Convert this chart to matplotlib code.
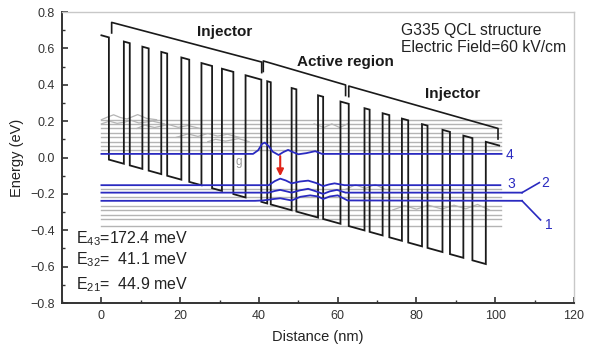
import matplotlib
matplotlib.use("Agg")
import matplotlib.pyplot as plt

plt.rcParams["font.family"] = ["Liberation Sans", "DejaVu Sans"]
plt.rcParams["mathtext.fontset"] = "custom"
plt.rcParams["mathtext.rm"] = "Liberation Sans"
plt.rcParams["mathtext.it"] = "Liberation Sans:italic"

# ── Layer structure (nm) ──────────────────────────────────────────────────────
barrier_start = [0.0, 5.7, 10.4, 15.2, 20.3, 25.4, 30.6, 36.6, 42.1, 48.3,
                 55.0, 60.7, 66.8, 71.4, 76.3, 81.4, 86.6, 91.9, 97.6]
barrier_end = [1.9, 7.2, 12.0, 16.7, 22.3, 28.1, 33.5, 40.6, 43.0, 49.5,
               56.3, 62.8, 68.1, 73.1, 77.9, 82.8, 88.5, 94.2, 101.0]

FIELD = 0.006        # eV/nm  (60 kV/cm)
BAND_OFFSET = 0.672  # eV
E_ORIGIN = 0.0       # eV, well floor at x = 0

# ── Subband levels (eV) ───────────────────────────────────────────────────────
level_names = ["4", "3", "2", "1"]
level_energy = [0.020, -0.152, -0.193, -0.238]
level_end = [101.6, 101.3, 106.8, 106.8]

gray_levels = [0.208, 0.185, 0.160, 0.135, 0.111, 0.087, 0.065, 0.044,
               -0.175, -0.218, -0.265, -0.288, -0.314, -0.340, -0.376]

# wavefunction traces (x nm, E eV)
wave4_x = [38.5, 39.8, 40.8, 41.5, 42.5, 43.5, 45.0, 46.2, 47.4, 48.6, 50.0, 52.0, 54.3, 56.0]
wave4_y = [0.020, 0.040, 0.075, 0.082, 0.062, 0.032, 0.014, 0.030, 0.042, 0.030, 0.018, 0.024, 0.035, 0.020]
wave3_x = [42.5, 44.0, 45.4, 46.8, 48.3, 50.4, 52.5, 54.5, 56.3, 57.8, 59.2, 61.7]
wave3_y = [-0.152, -0.130, -0.116, -0.126, -0.142, -0.132, -0.127, -0.140, -0.157, -0.148, -0.142, -0.152]
wave2_x = [42.5, 44.0, 45.4, 47.0, 48.3, 50.5, 52.5, 54.5, 56.3, 58.0, 59.8, 62.0]
wave2_y = [-0.193, -0.184, -0.178, -0.186, -0.193, -0.180, -0.172, -0.186, -0.200, -0.186, -0.178, -0.193]
wave1_x = [39.0, 41.0, 43.0, 45.4, 48.3, 50.5, 53.0, 55.0, 56.3, 58.0, 60.0, 62.5]
wave1_y = [-0.238, -0.236, -0.230, -0.224, -0.236, -0.216, -0.208, -0.214, -0.228, -0.214, -0.208, -0.236]

gray_waves = [
    ([0.0, 1.5, 3.1, 4.8, 6.5, 9.2, 11.5, 14.0],
     [0.208, 0.222, 0.235, 0.220, 0.212, 0.236, 0.215, 0.208]),
    ([0.0, 2.0, 4.0, 6.0, 7.5, 9.5, 13.0, 16.0],
     [0.185, 0.200, 0.188, 0.195, 0.205, 0.190, 0.200, 0.185]),
    ([9.0, 11.0, 13.5, 17.0, 19.5, 22.0, 25.0],
     [0.160, 0.178, 0.165, 0.182, 0.166, 0.176, 0.160]),
    ([19.0, 22.0, 24.5, 27.0, 29.5, 32.0, 35.0],
     [0.111, 0.130, 0.116, 0.132, 0.118, 0.128, 0.111]),
    ([27.0, 29.0, 31.5, 34.8, 37.5],
     [0.087, 0.100, 0.090, 0.104, 0.087]),
    ([54.0, 56.5, 58.5, 60.5, 62.5],
     [0.185, 0.165, 0.185, 0.165, 0.185]),
    ([62.0, 64.5, 67.0, 69.5, 72.0],
     [-0.175, -0.150, -0.170, -0.148, -0.175]),
    ([74.0, 77.0, 80.0, 83.0, 86.5, 89.5, 92.5, 95.5, 98.5],
     [-0.288, -0.265, -0.284, -0.262, -0.283, -0.262, -0.282, -0.258, -0.288]),
]

# ── Region brackets ───────────────────────────────────────────────────────────
bracket_names = ["Injector", "Active region", "Injector"]
bracket_x0 = [2.6, 41.1, 62.8]
bracket_x1 = [40.7, 62.0, 100.7]
bracket_y0 = [0.743, 0.531, 0.393]
bracket_y1 = [0.525, 0.399, 0.160]
bracket_label_x = [31.2, 62.0, 89.3]
bracket_label_y = [0.690, 0.527, 0.347]

energy_texts = ["E$_{43}$=172.4 meV", "E$_{32}$=  41.1 meV", "E$_{21}$=  44.9 meV"]
energy_text_y = [-0.448, -0.563, -0.700]

BLUE = "#2a2ac0"
GRAY = "#b4b4b4"

# ── Conduction band profile ──────────────────────────────────────────────────
xs, ys = [], []
n = len(barrier_start)
for i, (s, e) in enumerate(zip(barrier_start, barrier_end)):
    floor_s = E_ORIGIN - FIELD * s
    floor_e = E_ORIGIN - FIELD * e
    if i > 0:
        xs.append(s); ys.append(floor_s)
    xs += [s, e]
    ys += [floor_s + BAND_OFFSET, floor_e + BAND_OFFSET]
    if i < n - 1:
        xs.append(e); ys.append(floor_e)

fig = plt.figure(figsize=(5.93, 3.54), dpi=100)
ax = fig.add_axes([0.1046, 0.144, 0.8634, 0.822])

# gray subbands
for g in gray_levels:
    ax.plot([0, 101.5], [g, g], color=GRAY, lw=1.0, zorder=1)
for gx, gy in gray_waves:
    ax.plot(gx, gy, color=GRAY, lw=0.9, zorder=1)

ax.plot(xs, ys, color="#1a1a1a", lw=1.3, zorder=2, solid_joinstyle="miter")

# blue levels with wavefunctions
waves = [(wave4_x, wave4_y), (wave3_x, wave3_y), (wave2_x, wave2_y), (wave1_x, wave1_y)]
for e, xend, (wx, wy) in zip(level_energy, level_end, waves):
    px = [0.0] + wx + [xend]
    py = [e] + wy + [e]
    ax.plot(px, py, color=BLUE, lw=1.3, zorder=3)

# leader lines to labels 2 and 1
ax.plot([106.8, 111.2], [level_energy[2], -0.138], color=BLUE, lw=1.2, zorder=3)
ax.plot([106.8, 111.5], [level_energy[3], -0.343], color=BLUE, lw=1.2, zorder=3)
label_x = [103.6, 104.1, 112.6, 113.7]
label_y = [0.014, -0.146, -0.140, -0.371]
for name, lx, ly in zip(level_names, label_x, label_y):
    ax.text(lx, ly, name, color=BLUE, fontsize=10, ha="center", va="center")

# red transition arrow
ax.annotate("", xy=(45.4, -0.118), xytext=(45.4, 0.023),
            arrowprops=dict(arrowstyle="-|>", color="#e02418", lw=1.5,
                            mutation_scale=10), zorder=4)
ax.text(34.8, -0.022, "g", color="#999999", fontsize=8.5, ha="center", va="center")

# brackets
TICK = 0.058
for name, x0, x1, y0, y1, lx, ly in zip(bracket_names, bracket_x0, bracket_x1,
                                        bracket_y0, bracket_y1,
                                        bracket_label_x, bracket_label_y):
    ax.plot([x0, x0, x1, x1], [y0 - TICK, y0, y1, y1 - TICK],
            color="#1a1a1a", lw=1.2, zorder=2)
    ax.text(lx, ly, name, fontsize=11, fontweight="bold", ha="center",
            va="center", color="#1a1a1a")

ax.text(76.1, 0.697, "G335 QCL structure", fontsize=11.3, ha="left",
        va="center", color="#222222")
ax.text(76.1, 0.604, "Electric Field=60 kV/cm", fontsize=11.3, ha="left",
        va="center", color="#222222")
for t, ty in zip(energy_texts, energy_text_y):
    ax.text(-6.5, ty, t, fontsize=11.5, ha="left", va="center", color="#222222")

# axes styling
ax.set_xlim(-10, 120)
ax.set_ylim(-0.8, 0.8)
ax.set_xticks([0, 20, 40, 60, 80, 100, 120])
ax.set_xticks(range(-10, 121, 10), minor=True)
ax.set_yticks([-0.8, -0.6, -0.4, -0.2, 0.0, 0.2, 0.4, 0.6, 0.8])
ax.set_yticks([-0.7, -0.5, -0.3, -0.1, 0.1, 0.3, 0.5, 0.7], minor=True)
ax.tick_params(which="both", direction="in", colors="#333333", labelsize=9,
               top=False, right=False, pad=5)
ax.tick_params(which="major", length=4.5, width=1.2)
ax.tick_params(which="minor", length=2.5, width=1.0)
for side in ["left", "bottom"]:
    ax.spines[side].set_color("#333333")
    ax.spines[side].set_linewidth(1.4)
for side in ["top", "right"]:
    ax.spines[side].set_color("#c8c8c8")
    ax.spines[side].set_linewidth(1.0)
ax.set_xlabel("Distance (nm)", fontsize=10.5, color="#222222", labelpad=6)
ax.set_ylabel("Energy (eV)", fontsize=10.5, color="#222222", labelpad=5)

fig.savefig("out.png", dpi=100)
